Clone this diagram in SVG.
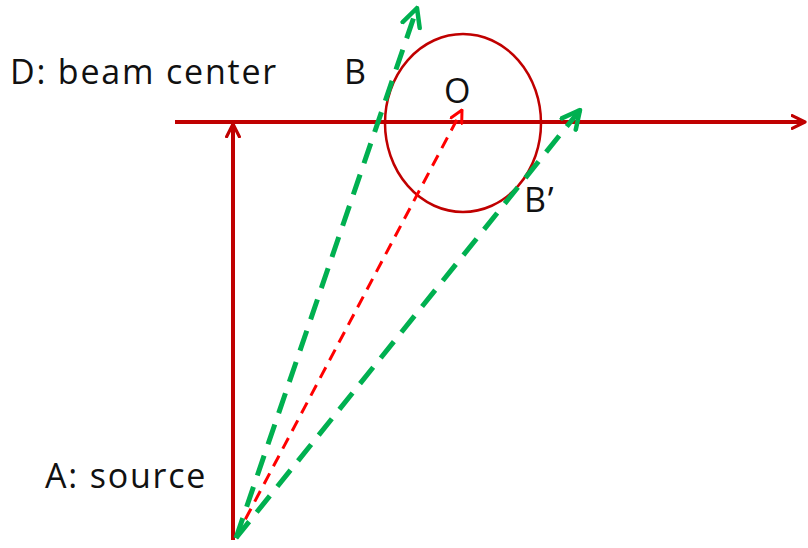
<svg xmlns="http://www.w3.org/2000/svg" width="808" height="548" viewBox="0 0 808 548">
<style>
.lbl{font-family:"Open Sans","Noto Sans",sans-serif;font-size:34px;fill:#111;letter-spacing:1.8px}
.axis{stroke:#C00000;stroke-width:4;fill:none}
.green{stroke:#00B050;stroke-width:5;fill:none;stroke-dasharray:21 12}
.reddash{stroke:#FF0000;stroke-width:3;fill:none;stroke-dasharray:12 8}
</style>
<defs>
<marker id="ar" viewBox="0 0 10 10" refX="9" refY="5" markerWidth="4" markerHeight="4" orient="auto" markerUnits="strokeWidth">
<path d="M1,1 L9,5 L1,9" fill="none" stroke="#C00000" stroke-width="2" stroke-linecap="round" stroke-linejoin="round"/>
</marker>
<marker id="ag" viewBox="0 0 10 10" refX="9" refY="5" markerWidth="4.5" markerHeight="4.5" orient="auto" markerUnits="strokeWidth">
<path d="M1,1 L9,5 L1,9" fill="none" stroke="#00B050" stroke-width="2" stroke-linecap="round" stroke-linejoin="round"/>
</marker>
<marker id="ard" viewBox="0 0 10 10" refX="9" refY="5" markerWidth="5" markerHeight="5" orient="auto" markerUnits="strokeWidth">
<path d="M1,1 L9,5 L1,9" fill="none" stroke="#FF0000" stroke-width="2" stroke-linecap="round" stroke-linejoin="round"/>
</marker>
</defs>
<g id="circle-O">
<ellipse cx="463" cy="123" rx="78" ry="89" fill="none" stroke="#C00000" stroke-width="2.5"/>
</g>
<g id="connectors">
<line class="axis" x1="175" y1="122" x2="805" y2="122" marker-end="url(#ar)"/>
<line class="axis" x1="233" y1="540" x2="233" y2="124" marker-end="url(#ar)"/>
<line class="reddash" x1="236" y1="537" x2="462" y2="110" marker-end="url(#ard)"/>
<line class="green" x1="236" y1="538" x2="417" y2="8" marker-end="url(#ag)"/>
<line class="green" x1="236" y1="538" x2="580" y2="110" marker-end="url(#ag)"/>
</g>
<g id="labels">
<text class="lbl" x="10" y="84">D: beam center</text>
<text class="lbl" x="344" y="84">B</text>
<text class="lbl" x="444" y="103">O</text>
<text class="lbl" x="524" y="212">B’</text>
<text class="lbl" x="45" y="488">A: source</text>
</g>
</svg>
